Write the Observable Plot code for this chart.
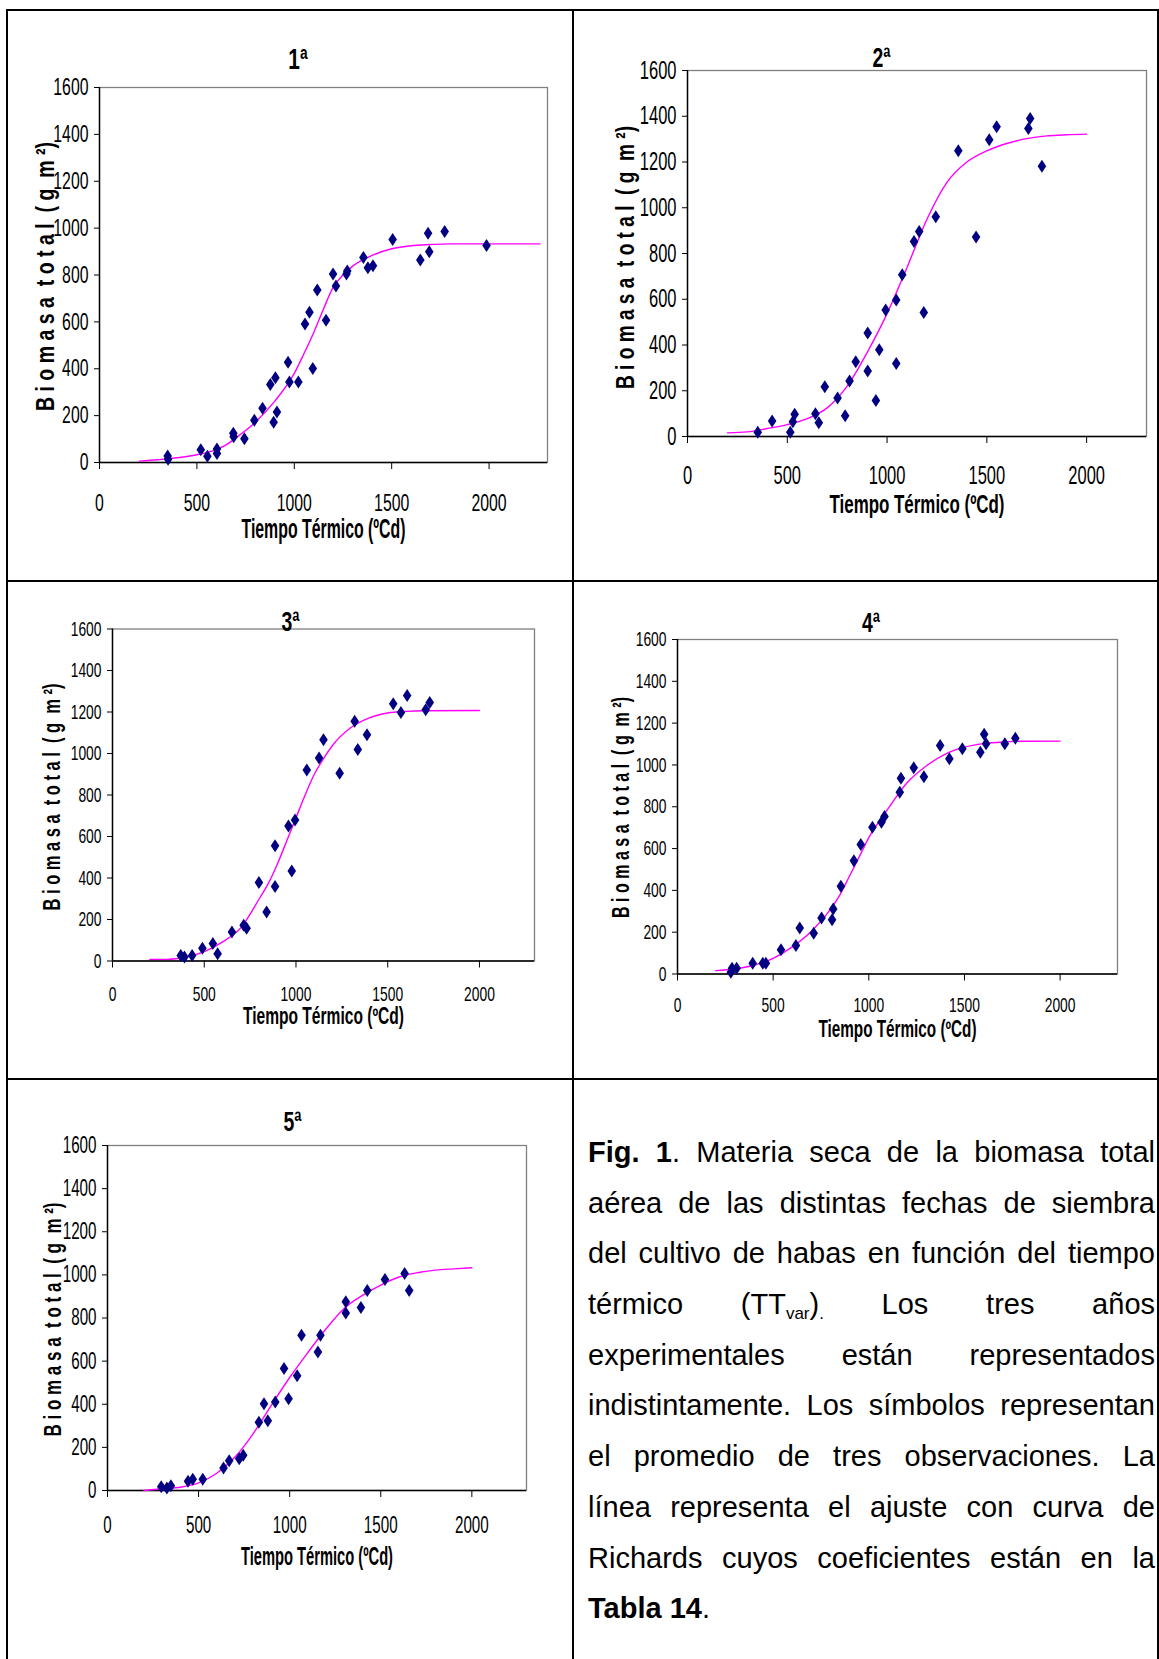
<!DOCTYPE html>
<html>
<head>
<meta charset="utf-8">
<script src="https://cdn.jsdelivr.net/npm/d3@7"></script>
<script src="https://cdn.jsdelivr.net/npm/@observablehq/plot@0.6"></script>
<style>
  html, body { margin: 0; padding: 0; background: #fff; }
  #page { position: relative; width: 1159px; height: 1659px; overflow: hidden; background: #fff; }
  .rule { position: absolute; background: #000; }
  #page svg { position: absolute; overflow: visible; }
  #page svg text { white-space: pre; }
  #caption { position: absolute; left: 588px; top: 1127px; width: 567px;
    font-family: "Liberation Sans", Arial, sans-serif; font-size: 29px; color: #000; }
  #caption .ln { height: 50.7px; line-height: 50.7px; text-align: justify; text-align-last: justify; white-space: nowrap; }
  #caption .ln.last { text-align-last: left; }
  #caption sub { font-size: 17px; line-height: 0; vertical-align: -5px; }
</style>
</head>
<body>
<div id="page"></div>
<script>
// ---------- data ----------
const xTicks = [0, 500, 1000, 1500, 2000];
const yTicks = [0, 200, 400, 600, 800, 1000, 1200, 1400, 1600];
const panelTitles = ["1ª", "2ª", "3ª", "4ª", "5ª"];
const xTitle = "Tiempo Térmico (ºCd)";
const yTitle = "B i o m a s a  t o t a l  ( g  m ²)";

// observed points [TT, biomass]
const obs1 = [[350,28],[352,14],[520,54],[554,27],[603,58],[603,38],[687,125],[689,110],[744,101],[795,180],[837,231],[877,333],[903,362],[894,172],[911,215],[968,428],[975,343],[1021,343],[1055,591],[1078,641],[1095,401],[1118,736],[1163,607],[1199,804],[1214,753],[1268,804],[1272,817],[1355,875],[1378,831],[1404,839],[1505,951],[1647,864],[1687,978],[1693,899],[1772,986],[1987,926]];
const obs2 = [[352,19],[424,68],[515,19],[528,65],[537,97],[641,100],[658,60],[688,218],[752,168],[790,91],[812,243],[843,327],[903,453],[903,286],[944,157],[961,379],[993,553],[1046,319],[1046,597],[1076,707],[1135,853],[1161,896],[1184,542],[1244,961],[1357,1249],[1446,872],[1512,1297],[1549,1354],[1708,1346],[1717,1390],[1776,1181]];
const obs3 = [[372,27],[392,19],[434,27],[490,61],[547,84],[573,35],[651,140],[715,172],[731,158],[798,378],[840,236],[886,555],[886,359],[959,651],[977,434],[995,679],[1059,921],[1126,978],[1150,1066],[1238,905],[1320,1155],[1337,1019],[1387,1090],[1530,1240],[1572,1198],[1606,1280],[1707,1211],[1729,1246]];
const obs4 = [[279,8],[285,27],[309,27],[393,51],[446,51],[462,51],[541,116],[619,136],[639,220],[712,195],[753,268],[808,260],[814,311],[854,420],[922,542],[958,619],[1019,702],[1066,726],[1082,753],[1162,869],[1168,936],[1235,986],[1288,944],[1373,1093],[1421,1029],[1489,1077],[1583,1061],[1603,1147],[1613,1101],[1711,1101],[1766,1128]];
const obs5 = [[295,17],[326,12],[348,22],[442,43],[468,52],[523,52],[637,104],[668,138],[723,147],[745,164],[831,316],[859,402],[880,323],[921,411],[969,566],[994,426],[1041,532],[1065,720],[1155,642],[1169,720],[1308,875],[1308,823],[1391,849],[1426,927],[1523,979],[1631,1006],[1656,927]];

// fitted Richards curves [TT, biomass]
const fit1 = [[205,6],[300,12],[400,20],[500,33],[600,55],[650,75],[700,105],[800,172],[900,262],[1000,380],[1050,465],[1100,555],[1150,655],[1200,748],[1250,800],[1300,838],[1400,884],[1500,912],[1600,925],[1700,930],[1800,933],[2000,933],[2262,933]];
const fit2 = [[200,16],[300,20],[400,35],[500,52],[600,78],[700,125],[800,220],[900,367],[1000,537],[1100,739],[1200,950],[1300,1111],[1400,1200],[1500,1249],[1600,1281],[1700,1302],[1800,1314],[1900,1319],[2000,1322]];
const fit3 = [[203,8],[300,8],[400,19],[500,45],[600,92],[700,161],[800,300],[850,375],[900,470],[950,580],[1000,690],[1050,800],[1100,900],[1150,975],[1200,1040],[1300,1125],[1400,1172],[1500,1195],[1600,1203],[1700,1206],[2000,1207]];
const fit4 = [[200,16],[300,25],[400,42],[500,75],[600,130],[700,205],[800,310],[850,380],[900,470],[950,560],[1000,652],[1100,790],[1200,915],[1300,995],[1400,1052],[1500,1085],[1600,1102],[1700,1110],[1800,1113],[2000,1114]];
const fit5 = [[200,0],[300,8],[400,15],[500,35],[600,80],[700,155],[800,264],[900,396],[1000,524],[1100,640],[1200,750],[1300,845],[1400,905],[1500,953],[1600,990],[1700,1010],[1800,1022],[1900,1028],[2000,1033]];

const observed = [obs1, obs2, obs3, obs4, obs5];
const fitted = [fit1, fit2, fit3, fit4, fit5];

// ---------- layout & style ----------
const layout = [
  {cell:[8,11,564,569],   L:99,  R:547,  T:87,    B:462,   tickF:24,   xLabD:40,   xtDy:67,   xtF:27, xtLen:164, tX:297.5, tY:59,   tF:29, ytX:45,    ytY:276,   ytF:25, ytLen:269},
  {cell:[574,11,583,569], L:687, R:1146, T:70,    B:436,   tickF:25,   xLabD:38.5, xtDy:68,   xtF:26, xtLen:175, tX:881,   tY:58,   tF:27, ytX:625,   ytY:257,   ytF:25, ytLen:263},
  {cell:[8,582,564,496],  L:112, R:534,  T:628.5, B:960.5, tickF:21,   xLabD:33,   xtDy:56,   xtF:23, xtLen:161, tX:290,   tY:622,  tF:27, ytX:52,    ytY:796.5, ytF:24, ytLen:227},
  {cell:[574,582,583,496],L:677, R:1117, T:639,   B:973.5, tickF:21,   xLabD:31,   xtDy:56,   xtF:23, xtLen:158, tX:870.5, tY:623,  tF:27, ytX:621,   ytY:807,   ytF:24, ytLen:221},
  {cell:[8,1080,564,579], L:107, R:526,  T:1145,  B:1490,  tickF:23,   xLabD:34.7, xtDy:66,   xtF:25, xtLen:152, tX:292,   tY:1122, tF:27, ytX:53,    ytY:1319,  ytF:24, ytLen:234},
];

const tallDiamond = {
  draw(ctx, size) {
    const r = Math.sqrt(size / Math.PI);
    const w = r * 0.66;
    ctx.moveTo(0, -r); ctx.lineTo(w, 0); ctx.lineTo(0, r); ctx.lineTo(-w, 0); ctx.closePath();
  }
};

const page = document.getElementById("page");

// table rules
[[6,9,1153,2],[6,9,2,1650],[572,9,2,1650],[1157,9,2,1650],[6,579.5,1153,2],[6,1077.5,1153,2]].forEach(([x,y,w,h]) => {
  const d = document.createElement("div");
  d.className = "rule";
  Object.assign(d.style, {left: x+"px", top: y+"px", width: w+"px", height: h+"px"});
  page.appendChild(d);
});

layout.forEach((g, i) => {
  const [cx, cy, cw, ch] = g.cell;
  const svg = Plot.plot({
    width: cw, height: ch,
    marginLeft: g.L - cx, marginRight: cx + cw - g.R,
    marginTop: g.T - cy, marginBottom: cy + ch - g.B,
    style: {background: "transparent", fontFamily: "'Liberation Sans', Arial, sans-serif", color: "#000", overflow: "visible"},
    x: {domain: [0, 2300]},
    y: {domain: [0, 1600]},
    marks: [
      Plot.frame({stroke: "#808080", strokeWidth: 1.3}),
      Plot.ruleX([0], {stroke: "#000", strokeWidth: 1.4}),
      Plot.ruleY([0], {stroke: "#000", strokeWidth: 1.4}),
      Plot.axisX(xTicks, {tickSize: 7, tickPadding: g.xLabD - 7 - 0.358 * g.tickF, fontSize: g.tickF, tickFormat: "d", label: null, stroke: "#000"}),
      Plot.axisY(yTicks, {tickSize: 5, tickPadding: 6, fontSize: g.tickF, tickFormat: "d", label: null, stroke: "#000"}),
      Plot.line(fitted[i], {x: d => d[0], y: d => d[1], stroke: "#ff00ff", strokeWidth: 1.4, curve: "monotone-x"}),
      Plot.dot(observed[i], {x: d => d[0], y: d => d[1], symbol: tallDiamond, r: 6.5, fill: "#000080", stroke: "none"}),
      Plot.text([panelTitles[i]], {text: d => d, frameAnchor: "top-left", dx: g.tX - g.L, dy: g.tY - g.T, fontSize: g.tF, fontWeight: "bold", textAnchor: "middle", lineAnchor: "middle"}),
      Plot.text([xTitle], {text: d => d, frameAnchor: "bottom", dy: g.xtDy, fontSize: g.xtF, fontWeight: "bold", textAnchor: "middle", lineAnchor: "middle"}),
      Plot.text([yTitle], {text: d => d, frameAnchor: "left", dx: g.ytX - g.L, dy: g.ytY - (g.T + g.B) / 2, rotate: -90, fontSize: g.ytF, fontWeight: "bold", textAnchor: "middle", lineAnchor: "middle"})
    ]
  });
  svg.style.left = cx + "px";
  svg.style.top = cy + "px";
  page.appendChild(svg);
  // condensed lettering, as in the original
  svg.querySelectorAll("text").forEach(t => {
    const s = t.textContent;
    const len = t.getComputedTextLength();
    let target = null;
    if (/^\d+$/.test(s)) target = len * 0.66;
    else if (s.startsWith("Tiempo")) target = g.xtLen;
    else if (s.startsWith("B i")) target = g.ytLen;
    else if (s.includes("ª")) target = len * 0.72;
    if (target) {
      t.setAttribute("textLength", target.toFixed(1));
      t.setAttribute("lengthAdjust", "spacingAndGlyphs");
    }
  });
});

// caption
const captionLines = [
  "<b>Fig. 1</b>. Materia seca de la biomasa total",
  "aérea de las distintas fechas de siembra",
  "del cultivo de habas en función del tiempo",
  "térmico (TT<sub>var</sub>)<sub>.</sub> Los tres años",
  "experimentales están representados",
  "indistintamente. Los símbolos representan",
  "el promedio de tres observaciones. La",
  "línea  representa el ajuste con curva de",
  "Richards cuyos coeficientes están en la",
  "<b>Tabla 14</b>."
];
const cap = document.createElement("div");
cap.id = "caption";
captionLines.forEach((l, k) => {
  const d = document.createElement("div");
  d.className = "ln" + (k === captionLines.length - 1 ? " last" : "");
  d.innerHTML = l;
  cap.appendChild(d);
});
page.appendChild(cap);
</script>
</body>
</html>
